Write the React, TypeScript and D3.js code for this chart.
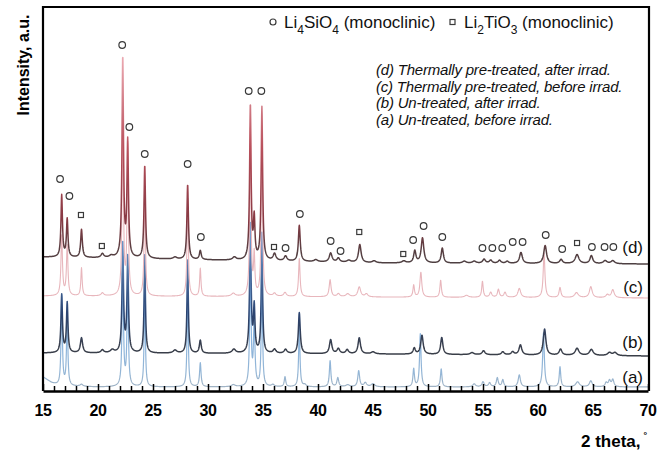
import React, { useEffect, useRef } from 'react';
import * as d3 from 'd3';

// peak lists: [2theta, height above background, half width]
const peaksD = [
  [16.7, 62, 0.08], [17.2, 38, 0.08], [18.5, 28, 0.09], [20.4, 4, 0.15], [21.2, 2, 0.2],
  [22.25, 200, 0.08], [22.7, 115, 0.08], [24.25, 93, 0.08], [27.0, 2, 0.2], [28.15, 75, 0.08],
  [29.3, 9, 0.1], [32.4, 3, 0.2], [33.85, 155, 0.08], [34.2, 40, 0.08], [34.9, 153, 0.08],
  [36.05, 7, 0.15], [37.05, 5, 0.15], [38.3, 36, 0.1], [39.8, 2, 0.2], [41.15, 9, 0.15],
  [41.85, 4, 0.15], [42.8, 2, 0.2], [43.8, 18, 0.14], [45.1, 2, 0.2], [47.8, 2, 0.2],
  [48.8, 12, 0.12], [49.5, 25, 0.14], [51.3, 15, 0.12], [53.3, 2, 0.2], [54.2, 2, 0.2],
  [55.1, 4, 0.15], [55.7, 3, 0.15], [56.5, 3, 0.15], [57.2, 2, 0.15], [58.45, 11, 0.15],
  [60.65, 18, 0.15], [62.1, 4, 0.15], [63.55, 9, 0.2], [64.85, 8, 0.15], [66.1, 3, 0.2], [66.8, 3, 0.2],
];
const peaksC = [
  [16.7, 60, 0.08], [17.2, 50, 0.08], [18.5, 28, 0.07], [20.4, 3, 0.15], [22.25, 200, 0.07],
  [22.7, 150, 0.07], [24.25, 110, 0.07], [28.15, 100, 0.07], [29.3, 28, 0.07], [32.3, 3, 0.2],
  [33.85, 170, 0.07], [34.2, 40, 0.07], [34.9, 170, 0.07], [36.05, 3, 0.15], [37.0, 4, 0.15],
  [38.3, 38, 0.08], [41.1, 17, 0.1], [41.85, 3, 0.15], [42.7, 3, 0.2], [43.75, 10, 0.15],
  [44.4, 3, 0.15], [48.7, 12, 0.08], [49.35, 25, 0.1], [51.15, 17, 0.08], [53.5, 2, 0.2],
  [54.95, 16, 0.08], [55.7, 5, 0.12], [56.4, 8, 0.1], [57.0, 5, 0.12], [58.3, 9, 0.15],
  [60.55, 45, 0.09], [62.0, 10, 0.1], [63.5, 5, 0.2], [64.8, 11, 0.15], [66.3, 3, 0.15], [66.8, 8, 0.15],
];
const peaksB = [
  [16.7, 58, 0.08], [17.2, 50, 0.08], [18.5, 15, 0.12], [20.4, 3, 0.15], [21.3, 3, 0.2],
  [22.25, 110, 0.08], [22.7, 95, 0.08], [24.25, 100, 0.07], [27.0, 3, 0.2], [28.15, 95, 0.07],
  [29.3, 13, 0.1], [32.35, 4, 0.2], [33.85, 130, 0.08], [34.2, 45, 0.08], [34.9, 120, 0.07],
  [36.05, 4, 0.15], [37.05, 4, 0.15], [38.3, 41, 0.1], [41.15, 14, 0.13], [41.85, 5, 0.15],
  [42.65, 4, 0.15], [43.75, 16, 0.13], [45.0, 2, 0.2], [48.75, 6, 0.12], [49.45, 19, 0.13],
  [51.25, 17, 0.12], [54.0, 2, 0.2], [55.05, 4, 0.15], [56.8, 3, 0.15], [57.7, 3, 0.15],
  [58.4, 10, 0.15], [60.6, 26, 0.14], [62.05, 6, 0.15], [63.55, 7, 0.2], [64.85, 6, 0.2],
  [66.5, 3, 0.2], [67.0, 3, 0.2],
];
const peaksA = [
  [16.7, 90, 0.07], [17.2, 70, 0.07], [18.5, 2, 0.15], [22.25, 130, 0.07], [22.7, 110, 0.07],
  [24.25, 110, 0.06], [28.15, 110, 0.06], [29.3, 24, 0.08], [32.3, 2, 0.2], [33.85, 130, 0.07],
  [34.2, 64, 0.08], [34.9, 130, 0.06], [35.9, 2, 0.15], [37.0, 10, 0.08], [38.3, 60, 0.07],
  [38.8, 2, 0.15], [41.1, 26, 0.08], [41.8, 9, 0.1], [42.7, 2, 0.2], [43.7, 16, 0.1],
  [44.3, 4, 0.15], [45.0, 3, 0.2], [48.7, 18, 0.08], [49.3, 53, 0.08], [51.2, 18, 0.08],
  [54.2, 3, 0.15], [55.0, 5, 0.12], [55.6, 4, 0.12], [56.3, 9, 0.1], [56.8, 7, 0.1],
  [58.3, 12, 0.12], [60.5, 54, 0.09], [62.0, 20, 0.08], [63.6, 5, 0.2], [64.8, 6, 0.15],
  [66.2, 4, 0.12], [66.5, 6, 0.12], [66.8, 7, 0.12],
];

// background levels [2theta, intensity]
const bgD = [[15, 134], [25, 132], [35, 130], [45, 128], [70, 127]];
const bgC = [[15, 95], [70, 93]];
const bgB = [[15, 38], [45, 37], [70, 35]];
const bgA = [[15, 14], [15.8, 8], [16.5, 5], [20, 4], [70, 4]];

const circleMarks = [
  [16.55, 212], [17.4, 195], [22.2, 346], [22.85, 264], [24.25, 237], [28.15, 227],
  [29.35, 154], [33.7, 300], [34.85, 300], [37.05, 143], [38.35, 177], [41.15, 150],
  [42.05, 140], [48.65, 151], [49.6, 165], [51.3, 154], [54.95, 143], [55.85, 143],
  [56.75, 143], [57.7, 149], [58.6, 149], [60.7, 156], [62.2, 142], [64.9, 144],
  [66.05, 144], [66.85, 144],
];
const squareMarks = [[18.45, 176], [20.35, 145], [36.0, 144], [43.75, 159], [47.75, 137], [63.55, 148]];

const xTicks = [15, 20, 25, 30, 35, 40, 45, 50, 55, 60, 65, 70];
const sampleNames = [
  '(d) Thermally pre-treated, after irrad.',
  '(c) Thermally pre-treated, before irrad.',
  '(b) Un-treated, after irrad.',
  '(a) Un-treated, before irrad.',
];
const traceLabels = [['(d)', 247], ['(c)', 287], ['(b)', 342], ['(a)', 377]];

const FONT = '"Liberation Sans", Arial, sans-serif';

function App() {
  const svgRef = useRef(null);

  useEffect(() => {
    const svg = d3.select(svgRef.current);
    svg.selectAll('*').remove();

    const left = 43, right = 649, top = 7, bottom = 391;
    const x = d3.scaleLinear().domain([15, 70]).range([43, 648]);
    const y = d3.scaleLinear().domain([0, 385]).range([391, 6]);

    const grid = d3.range(15, 70.0001, 0.02);
    const trace = (peaks, bg) => {
      const base = d3.scaleLinear().domain(bg.map(d => d[0])).range(bg.map(d => d[1])).clamp(true);
      return grid.map(t => {
        let v = base(t);
        peaks.forEach(([p, h, w]) => { const u = (t - p) / w; v += h / (1 + u * u); });
        return [t, v];
      });
    };
    const line = d3.line().x(d => x(d[0])).y(d => y(d[1]));

    const defs = svg.append('defs');
    const grad = (id, y1, y2, stops) => {
      const g = defs.append('linearGradient').attr('id', id)
        .attr('gradientUnits', 'userSpaceOnUse')
        .attr('x1', 0).attr('x2', 0).attr('y1', y1).attr('y2', y2);
      stops.forEach(([o, c]) => g.append('stop').attr('offset', o).attr('stop-color', c));
    };
    grad('gd', 268, 50, [[0, '#4a4042'], [0.08, '#573e41'], [0.22, '#873943'], [0.55, '#b9505c'], [1, '#efb0b8']]);
    grad('gb', 362, 240, [[0, '#3a3d43'], [0.15, '#383f4f'], [0.4, '#2b4472'], [1, '#6a97cc']]);
    grad('ga', 392, 300, [[0, '#a4b1bd'], [0.2, '#94b6d6'], [1, '#7fb0e2']]);

    const series = [
      [peaksA, bgA, 'url(#ga)', 1.2],
      [peaksB, bgB, 'url(#gb)', 1.5],
      [peaksC, bgC, '#e8b6bc', 1.1],
      [peaksD, bgD, 'url(#gd)', 1.5],
    ];
    series.forEach(([p, bg, color, w]) => {
      svg.append('path')
        .attr('d', line(trace(p, bg)))
        .attr('fill', 'none')
        .attr('stroke', color)
        .attr('stroke-width', w)
        .attr('stroke-linejoin', 'round');
    });

    // phase markers
    svg.append('g').selectAll('circle').data(circleMarks).enter().append('circle')
      .attr('cx', d => x(d[0])).attr('cy', d => y(d[1])).attr('r', 3.3)
      .attr('fill', 'white').attr('stroke', '#3a3a3a').attr('stroke-width', 1.2);
    svg.append('g').selectAll('rect').data(squareMarks).enter().append('rect')
      .attr('x', d => x(d[0]) - 2.5).attr('y', d => y(d[1]) - 2.5)
      .attr('width', 5).attr('height', 5)
      .attr('fill', 'white').attr('stroke', '#3a3a3a').attr('stroke-width', 1.2);

    // frame and bottom axis
    svg.append('path')
      .attr('d', `M${left},${bottom}V${top}H${right}V${bottom}`)
      .attr('fill', 'none').attr('stroke', '#000').attr('stroke-width', 2.2);
    const axis = svg.append('g').attr('transform', `translate(0,${bottom})`)
      .call(d3.axisBottom(x).tickValues(d3.range(15, 70.01, 1)).tickSizeInner(-5).tickSizeOuter(0).tickFormat(() => ''));
    axis.select('.domain').attr('stroke-width', 2.5);
    axis.selectAll('.tick line').attr('stroke-width', 1.5)
      .attr('y2', d => (d % 5 === 0 ? -7 : -5));
    svg.append('g').selectAll('text').data(xTicks).enter().append('text')
      .attr('x', d => x(d)).attr('y', 416)
      .attr('text-anchor', 'middle')
      .style('font-family', FONT).style('font-weight', 'bold').style('font-size', '16px')
      .style('letter-spacing', '-0.5px')
      .text(d => d);

    svg.append('text')
      .attr('x', 581).attr('y', 447)
      .style('font-family', FONT).style('font-weight', 'bold').style('font-size', '17px')
      .text('2 theta,')
      .append('tspan').attr('dx', 3).attr('dy', -9).style('font-size', '9px').text('°');

    svg.append('text')
      .attr('transform', 'translate(29,65) rotate(-90)')
      .attr('text-anchor', 'middle')
      .style('font-family', FONT).style('font-weight', 'bold').style('font-size', '16px')
      .text('Intensity, a.u.');

    // phase legend
    svg.append('circle').attr('cx', 273).attr('cy', 22).attr('r', 3)
      .attr('fill', 'white').attr('stroke', '#3a3a3a').attr('stroke-width', 1.2);
    svg.append('rect').attr('x', 450).attr('y', 19.5).attr('width', 5).attr('height', 5)
      .attr('fill', 'white').attr('stroke', '#3a3a3a').attr('stroke-width', 1.2);
    const phase = (x0, parts) => {
      const t = svg.append('text').attr('x', x0).attr('y', 28)
        .style('font-family', FONT).style('font-size', '17px').style('fill', '#111');
      let low = false;
      parts.forEach(([s, sub]) => {
        const dy = sub ? (low ? 0 : 6) : (low ? -6 : 0);
        low = !!sub;
        t.append('tspan').attr('dy', dy).style('font-size', sub ? '12px' : '17px').text(s);
      });
    };
    phase(284, [['Li'], ['4', true], ['SiO'], ['4', true], [' (monoclinic)']]);
    phase(464, [['Li'], ['2', true], ['TiO'], ['3', true], ['  (monoclinic)']]);

    svg.append('g').selectAll('text').data(sampleNames).enter().append('text')
      .attr('x', 376).attr('y', (d, i) => 75 + i * 16.7)
      .style('font-family', FONT).style('font-style', 'italic').style('font-size', '15px')
      .style('letter-spacing', '-0.2px')
      .style('fill', '#111')
      .text(d => d);

    svg.append('g').selectAll('text').data(traceLabels).enter().append('text')
      .attr('x', 643).attr('y', d => d[1] + 6)
      .attr('text-anchor', 'end')
      .style('font-family', FONT).style('font-size', '17px').style('fill', '#111')
      .text(d => d[0]);
  }, []);

  return (
    <svg ref={svgRef} width={669} height={451}
      style={{ position: 'absolute', left: 0, top: 0, background: 'white' }} />
  );
}

export default App;
